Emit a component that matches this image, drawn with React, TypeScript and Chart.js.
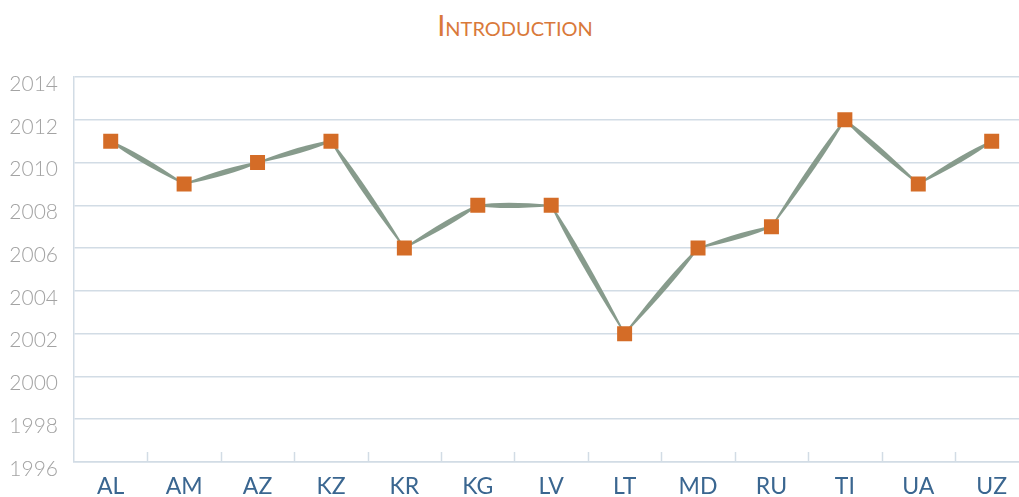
import React, { useEffect, useRef } from "react";
import { Chart, registerables } from "chart.js";

Chart.register(...registerables);

const TITLE = "Introduction";
const categories = ["AL", "AM", "AZ", "KZ", "KR", "KG", "LV", "LT", "MD", "RU", "TI", "UA", "UZ"];
const years = [2011, 2009, 2010, 2011, 2006, 2008, 2008, 2002, 2006, 2007, 2012, 2009, 2011];
const yMin = 1996;
const yMax = 2014;
const yStep = 2;

const LINE_COLOR = "#879b8c";
const POINT_COLOR = "#d46c27";
const GRID_COLOR = "#d2dce5";

const ribbonPlugin = {
  id: "ribbon",
  beforeDatasetsDraw(chart: any) {
    const meta = chart.getDatasetMeta(0);
    const pts = meta.data;
    const ctx = chart.ctx;
    ctx.save();
    ctx.fillStyle = LINE_COLOR;
    ctx.strokeStyle = LINE_COLOR;
    ctx.lineWidth = 1;
    for (let i = 0; i < pts.length - 1; i++) {
      const a = pts[i];
      const b = pts[i + 1];
      const dx = b.x - a.x;
      const dy = b.y - a.y;
      const len = Math.hypot(dx, dy) || 1;
      const nx = -dy / len;
      const ny = dx / len;
      const t = a.y <= b.y ? 0.35 : 0.65;
      const qx = a.x + dx * t;
      const qy = a.y + dy * t;
      const h = 3.4;
      const e = 0.6;
      ctx.beginPath();
      ctx.moveTo(a.x + nx * e, a.y + ny * e);
      ctx.quadraticCurveTo(qx + nx * h * 1.4, qy + ny * h * 1.4, b.x + nx * e, b.y + ny * e);
      ctx.lineTo(b.x - nx * e, b.y - ny * e);
      ctx.quadraticCurveTo(qx - nx * h * 1.4, qy - ny * h * 1.4, a.x - nx * e, a.y - ny * e);
      ctx.closePath();
      ctx.fill();
      ctx.beginPath();
      ctx.moveTo(a.x, a.y);
      ctx.lineTo(b.x, b.y);
      ctx.stroke();
    }
    ctx.restore();
  },
};

const innerTicksPlugin = {
  id: "innerTicks",
  afterDraw(chart: any) {
    const xs = chart.scales.x;
    const area = chart.chartArea;
    const ctx = chart.ctx;
    ctx.save();
    ctx.strokeStyle = GRID_COLOR;
    ctx.lineWidth = 1.5;
    for (let i = 0; i < categories.length - 1; i++) {
      const x = Math.round((xs.getPixelForValue(i) + xs.getPixelForValue(i + 1)) / 2) + 0.5;
      ctx.beginPath();
      ctx.moveTo(x, area.bottom - 10);
      ctx.lineTo(x, area.bottom);
      ctx.stroke();
    }
    ctx.restore();
  },
};

export default function App() {
  const ref = useRef<HTMLCanvasElement | null>(null);

  useEffect(() => {
    if (!ref.current) return;
    const chart = new Chart(ref.current, {
      type: "line",
      data: {
        labels: categories,
        datasets: [
          {
            label: TITLE,
            data: years,
            showLine: false,
            pointStyle: "rect",
            pointRadius: 10.6,
            pointHoverRadius: 10.6,
            pointBorderWidth: 0,
            pointBackgroundColor: POINT_COLOR,
            borderColor: LINE_COLOR,
            backgroundColor: POINT_COLOR,
          },
        ],
      },
      options: {
        animation: false,
        responsive: false,
        maintainAspectRatio: false,
        layout: { padding: { top: 77, left: 0, right: 0, bottom: 0 } },
        plugins: {
          legend: { display: false },
          title: { display: false },
          tooltip: { enabled: false },
        },
        scales: {
          x: {
            offset: true,
            grid: { display: false, drawTicks: false },
            border: { display: true, color: GRID_COLOR, width: 1.5 },
            ticks: {
              color: "#3a6690",
              padding: 11,
              font: { family: "Lato", size: 23, weight: "normal" },
            },
            afterFit(scale: any) {
              scale.height = 35;
            },
          },
          y: {
            min: yMin,
            max: yMax,
            grid: { color: GRID_COLOR, lineWidth: 1.5, drawTicks: false },
            border: { display: true, color: GRID_COLOR, width: 1.5 },
            ticks: {
              stepSize: yStep,
              color: "#a3a3a3",
              padding: 16,
              labelOffset: 7,
              font: { family: "Lato", size: 21, weight: 300 },
              callback: (v: any) => String(v),
            },
            afterFit(scale: any) {
              scale.width = 74;
            },
          },
        },
      },
      plugins: [ribbonPlugin, innerTicksPlugin],
    });
    return () => chart.destroy();
  }, []);

  return (
    <div
      style={{
        position: "absolute",
        left: 0,
        top: 0,
        width: 1019,
        height: 497,
        overflow: "hidden",
        background: "#ffffff",
      }}
    >
      <div
        style={{
          position: "absolute",
          left: 0,
          top: 7,
          width: 1030,
          textAlign: "center",
          fontFamily: "Lato",
          fontWeight: 400,
          fontSize: 29,
          fontVariant: "small-caps",
          color: "#d9793a",
          lineHeight: "normal",
        }}
      >
        {TITLE}
      </div>
      <canvas
        ref={ref}
        width={1039}
        height={497}
        style={{ position: "absolute", left: 0, top: 0, width: 1039, height: 497 }}
      />
    </div>
  );
}
